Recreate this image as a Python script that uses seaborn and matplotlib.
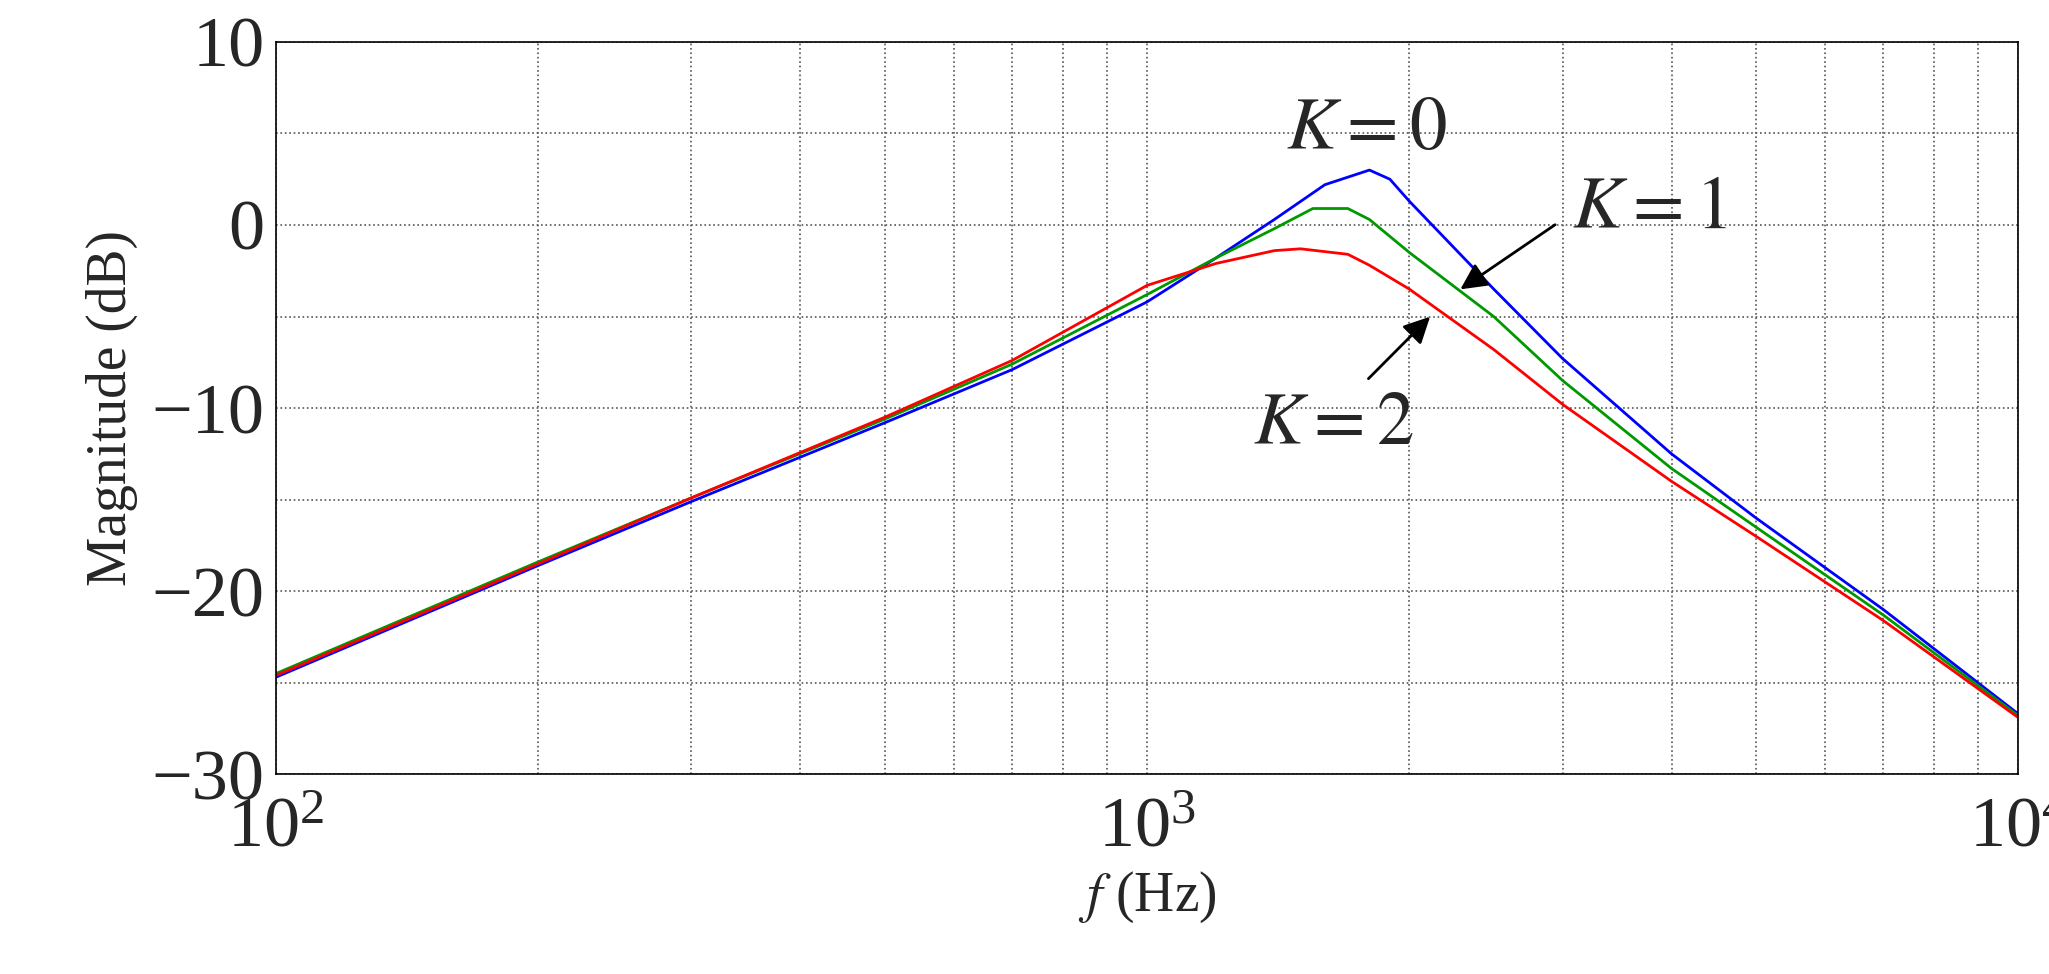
import numpy as np
import pandas as pd
import seaborn as sns
import matplotlib.pyplot as plt
from matplotlib.ticker import LogLocator, FixedLocator

freq_blue = [100, 200, 300, 500, 700, 1000, 1200, 1400, 1600, 1800, 1900, 2000, 2500, 3000, 4000, 5000, 7000, 10000]
mag_blue = [-24.7, -18.6, -15.1, -10.8, -7.9, -4.2, -1.8, 0.3, 2.2, 3.0, 2.5, 1.3, -3.5, -7.3, -12.5, -16.0, -21.0, -26.7]
freq_green = [100, 200, 300, 500, 700, 1000, 1200, 1400, 1550, 1700, 1800, 2000, 2500, 3000, 4000, 5000, 7000, 10000]
mag_green = [-24.5, -18.4, -14.9, -10.6, -7.6, -3.8, -1.8, -0.2, 0.9, 0.9, 0.3, -1.5, -5.0, -8.5, -13.3, -16.5, -21.3, -26.8]
freq_red = [100, 200, 300, 500, 700, 1000, 1200, 1400, 1500, 1700, 1800, 2000, 2500, 3000, 4000, 5000, 7000, 10000]
mag_red = [-24.6, -18.5, -14.9, -10.5, -7.4, -3.3, -2.1, -1.4, -1.3, -1.6, -2.2, -3.5, -6.8, -9.8, -14.0, -17.0, -21.6, -26.9]

sns.set_style("white")
plt.rcParams['font.family'] = ['Liberation Serif', 'DejaVu Serif']
plt.rcParams['mathtext.fontset'] = 'stix'

fig = plt.figure(figsize=(20.49, 9.74), dpi=100)
ax = fig.add_axes([0.1346, 0.205, 0.8504, 0.752])
for f, m, c in [(freq_blue, mag_blue, '#0000ff'), (freq_green, mag_green, '#009900'), (freq_red, mag_red, '#ff0000')]:
    sns.lineplot(x=f, y=m, ax=ax, color=c, lw=2)
ax.set_xscale('log')
ax.set_xlim(100, 10000)
ax.set_ylim(-30, 10)
ax.set_yticks([-30, -20, -10, 0, 10])
ax.set_yticklabels(['\u221230', '\u221220', '\u221210', '0', '10'])
ax.yaxis.set_minor_locator(FixedLocator([-25, -15, -5, 5]))
ax.xaxis.set_minor_locator(LogLocator(base=10, subs=np.arange(2, 10)))
ax.grid(True, which='both', color='#555555', linestyle=':', lw=1.2)
ax.tick_params(axis='y', which='major', labelsize=52, direction='in', length=8, pad=8)
ax.tick_params(axis='x', which='major', labelsize=52, direction='in', length=8, pad=16)
ax.tick_params(axis='both', which='minor', direction='in', length=4, labelbottom=False)
for s in ax.spines.values():
    s.set_color('black'); s.set_linewidth(1.2)
ax.set_xlabel('$f$ (Hz)', fontsize=40, labelpad=6)
ax.set_ylabel('Magnitude (dB)', fontsize=40, labelpad=10)

ax.text(1786, 5.1, '$K=0$', fontsize=54, ha='center', va='center')
ax.text(3770, 0.8, '$K=1$', fontsize=54, ha='center', va='center')
ax.text(1637, -11, '$K=2$', fontsize=54, ha='center', va='center')
ap = dict(arrowstyle='-|>', color='black', lw=2, mutation_scale=40)
ax.annotate('', xy=(2275, -3.6), xytext=(2958, 0.1), arrowprops=ap)
ax.annotate('', xy=(2124, -4.9), xytext=(1786, -8.5), arrowprops=ap)

fig.savefig('out.png', dpi=100)
